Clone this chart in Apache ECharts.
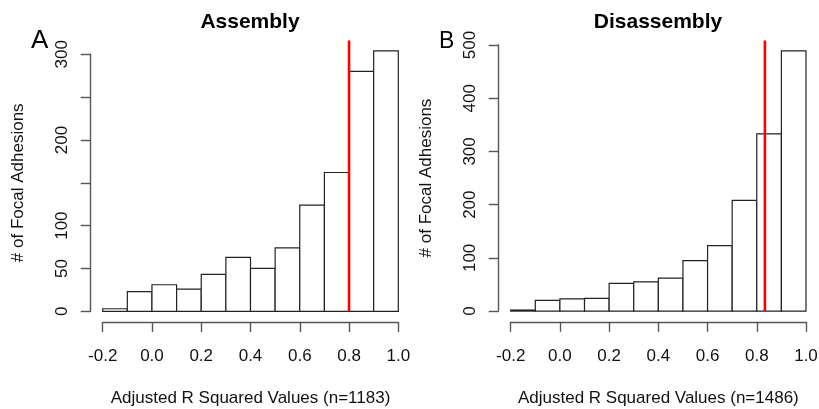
<!DOCTYPE html>
<html>
<head>
<meta charset="utf-8">
<script src="https://cdn.jsdelivr.net/npm/echarts@6/dist/echarts.min.js"></script>
<style>
html,body{margin:0;padding:0;background:#fff;}
#chart{width:819px;height:409px;}
</style>
</head>
<body>
<div id="chart"></div>
<script>
// ---- data ----
const breaks = [-0.2, -0.1, 0.0, 0.1, 0.2, 0.3, 0.4, 0.5, 0.6, 0.7, 0.8, 0.9, 1.0];
const countsAssembly    = [3, 23, 31, 26, 43, 63, 50, 74, 124, 162, 280, 304];
const countsDisassembly = [2, 20, 23, 24, 52, 55, 62, 95, 123, 208, 333, 489];
const thresholdAssembly = 0.8;
const thresholdDisassembly = 0.833;
const xTickValues = [-0.2, 0.0, 0.2, 0.4, 0.6, 0.8, 1.0];
const yTicksAssembly  = [0, 50, 100, 150, 200, 250, 300];
const yLabelsAssembly = [0, 50, 100, 200, 300];
const yTicksDisassembly  = [0, 100, 200, 300, 400, 500];
const yLabelsDisassembly = [0, 100, 200, 300, 400, 500];
const titles = ['Assembly', 'Disassembly'];
const panelLetters = ['A', 'B'];
const xNames = ['Adjusted R Squared Values (n=1183)', 'Adjusted R Squared Values (n=1486)'];
const yName = '# of Focal Adhesions';

const FONT = 'Liberation Sans, Arial, Helvetica, sans-serif';
const AXIS_COLOR = '#555';
const TEXT_COLOR = '#111';

function histData(counts) {
  return counts.map((c, i) => [breaks[i], breaks[i + 1], c]);
}

function renderBar(params, api) {
  const p0 = api.coord([api.value(0), api.value(2)]);
  const p1 = api.coord([api.value(1), 0]);
  return {
    type: 'rect',
    shape: { x: p0[0], y: p0[1], width: p1[0] - p0[0], height: p1[1] - p0[1] },
    style: { fill: '#fff', stroke: '#222', lineWidth: 1.2 }
  };
}
function renderVLine(params, api) {
  const a = api.coord([api.value(0), api.value(1)]);
  const b = api.coord([api.value(0), api.value(2)]);
  return {
    type: 'line',
    shape: { x1: a[0], y1: a[1], x2: b[0], y2: b[1] },
    style: { stroke: '#ff0000', lineWidth: 2.6 }
  };
}

function xAxisCfg(gridIndex, name) {
  return {
    type: 'value', gridIndex, min: -0.2, max: 1.0, offset: 10.7,
    name, nameLocation: 'middle', nameGap: 68,
    nameTextStyle: { fontFamily: FONT, fontSize: 17, color: TEXT_COLOR },
    axisLine: { show: true, onZero: false, lineStyle: { color: AXIS_COLOR, width: 1.4 } },
    axisTick: { show: true, length: 10, customValues: xTickValues, lineStyle: { color: AXIS_COLOR, width: 1.4 } },
    axisLabel: { customValues: xTickValues, margin: 26, fontFamily: FONT, fontSize: 17, color: TEXT_COLOR,
      formatter: v => v.toFixed(1) },
    splitLine: { show: false }
  };
}
function yAxisCfg(gridIndex, max, ticks, labels) {
  return {
    type: 'value', gridIndex, min: 0, max, offset: 12,
    name: yName, nameLocation: 'middle', nameGap: 64,
    nameTextStyle: { fontFamily: FONT, fontSize: 17, color: TEXT_COLOR },
    axisLine: { show: true, onZero: false, lineStyle: { color: AXIS_COLOR, width: 1.4 } },
    axisTick: { show: true, length: 10, customValues: ticks, lineStyle: { color: AXIS_COLOR, width: 1.4 } },
    axisLabel: { customValues: labels, rotate: 90, margin: 20, fontFamily: FONT, fontSize: 17, color: TEXT_COLOR },
    splitLine: { show: false }
  };
}

const chart = echarts.init(document.getElementById('chart'), null, { renderer: 'canvas' });
const topA = Math.max(...countsAssembly) * 1.04;
const topB = Math.max(...countsDisassembly) * 1.04;

chart.setOption({
  animation: false,
  backgroundColor: '#fff',
  title: [
    { text: titles[0], left: 245, top: 7, textAlign: 'center',
      textStyle: { fontFamily: FONT, fontSize: 21, fontWeight: 'bold', color: '#000' } },
    { text: titles[1], left: 653, top: 7, textAlign: 'center',
      textStyle: { fontFamily: FONT, fontSize: 21, fontWeight: 'bold', color: '#000' } },
    { text: panelLetters[0], left: 26, top: 23,
      textStyle: { fontFamily: FONT, fontSize: 26, fontWeight: 'normal', color: '#000' } },
    { text: panelLetters[1], left: 434, top: 25,
      textStyle: { fontFamily: FONT, fontSize: 23, fontWeight: 'normal', color: '#000' } }
  ],
  grid: [
    { left: 102.7, right: 420.7, top: 54.3, bottom: 97.7, outerBoundsMode: 'none', containLabel: false },
    { left: 510.7, right: 13, top: 45, bottom: 97.9, outerBoundsMode: 'none', containLabel: false }
  ],
  xAxis: [ xAxisCfg(0, xNames[0]), xAxisCfg(1, xNames[1]) ],
  yAxis: [
    yAxisCfg(0, 300, yTicksAssembly, yLabelsAssembly),
    yAxisCfg(1, 500, yTicksDisassembly, yLabelsDisassembly)
  ],
  series: [
    { type: 'custom', xAxisIndex: 0, yAxisIndex: 0, clip: false, renderItem: renderBar,
      encode: { x: [0, 1], y: 2 }, data: histData(countsAssembly) },
    { type: 'custom', xAxisIndex: 1, yAxisIndex: 1, clip: false, renderItem: renderBar,
      encode: { x: [0, 1], y: 2 }, data: histData(countsDisassembly) },
    { type: 'custom', xAxisIndex: 0, yAxisIndex: 0, clip: false, renderItem: renderVLine, z: 5,
      encode: { x: 0, y: [1, 2] }, data: [[thresholdAssembly, 0, topA]] },
    { type: 'custom', xAxisIndex: 1, yAxisIndex: 1, clip: false, renderItem: renderVLine, z: 5,
      encode: { x: 0, y: [1, 2] }, data: [[thresholdDisassembly, 0, topB]] }
  ]
});
</script>
</body>
</html>
